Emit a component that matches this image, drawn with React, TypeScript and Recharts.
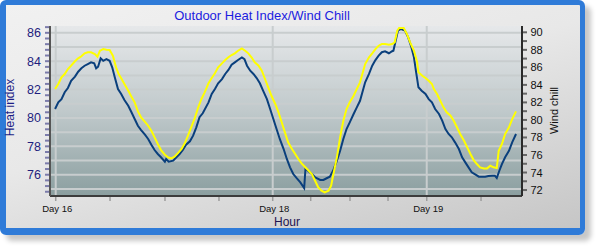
import { LineChart, Line, XAxis, YAxis, CartesianGrid, ReferenceLine } from 'recharts';

// hours since the first reading (Day 16)
const heatHours = [
  -0.1, 0.4, 0.9, 1.4, 1.9, 2.4, 3.0, 3.5, 4.0, 4.5,
  5.0, 5.5, 6.0, 6.3, 6.6, 7.0, 7.4, 7.9, 8.4, 8.8,
  9.2, 9.7, 10.2, 10.7, 11.3, 11.8, 12.3, 12.8, 13.3, 13.9,
  14.4, 14.9, 15.4, 15.9, 16.4, 17.0, 17.2, 17.6, 18.3, 18.8,
  19.3, 19.8, 20.3, 20.9, 21.4, 21.9, 22.4, 22.9, 23.8, 24.3,
  24.8, 25.3, 25.9, 26.4, 26.9, 27.4, 27.9, 28.4, 29.0, 29.4,
  29.8, 30.3, 30.8, 31.3, 31.8, 32.3, 32.9, 33.4, 33.9, 34.4,
  34.9, 35.5, 36.0, 36.5, 37.0, 37.5, 38.1, 38.7, 38.9, 39.3,
  39.9, 40.4, 41.2, 41.7, 42.2, 42.7, 43.2, 43.8, 44.3, 44.8,
  45.3, 45.8, 46.4, 46.9, 47.4, 48.2, 48.8, 49.3, 49.8, 50.3,
  50.8, 51.3, 51.9, 52.4, 52.6, 52.9, 53.3, 53.8, 54.4, 54.9,
  55.4, 55.8, 56.1, 56.5, 57.0, 57.6, 58.1, 58.6, 59.1, 59.7,
  60.2, 60.7, 61.2, 61.7, 62.2, 62.8, 63.3, 63.8, 64.3, 64.8,
  65.4, 65.9, 66.4, 66.9, 67.4, 68.0, 68.4, 68.7, 69.1, 69.5,
  70.0, 70.6, 71.1, 71.7,
];
const heatIndex = [
  80.63, 81.1, 81.33, 81.81, 82.11, 82.62, 82.91, 83.26, 83.5, 83.68,
  83.8, 83.92, 83.85, 83.5, 83.61, 84.2, 84.03, 84.15, 84.03, 83.57,
  82.86, 82.04, 81.69, 81.26, 80.86, 80.4, 79.93, 79.45, 79.15, 78.82,
  78.52, 78.11, 77.74, 77.46, 77.23, 76.92, 77.11, 76.92, 76.99, 77.23,
  77.46, 77.74, 78.11, 78.35, 78.75, 79.34, 80.05, 80.33, 81.1, 81.69,
  82.04, 82.44, 82.74, 83.1, 83.38, 83.75, 83.92, 84.08, 84.27, 84.15,
  83.68, 83.33, 83.1, 82.81, 82.44, 81.92, 81.33, 80.63, 79.93, 79.22,
  78.52, 77.81, 77.11, 76.52, 76.05, 75.77, 75.46, 75.06, 76.4, 76.28,
  76.05, 75.82, 75.63, 75.63, 75.75, 75.86, 76.28, 76.99, 77.69, 78.52,
  79.22, 79.69, 80.28, 80.75, 81.21, 82.51, 83.1, 83.68, 84.08, 84.39,
  84.63, 84.7, 84.56, 84.7, 84.74, 85.33, 86.15, 86.27, 86.15, 85.68,
  84.98, 84.27, 83.33, 82.16, 81.92, 81.69, 81.33, 81.1, 80.63, 80.28,
  79.81, 79.22, 78.87, 78.64, 78.28, 77.81, 77.23, 76.87, 76.52, 76.17,
  76.0, 75.86, 75.86, 75.86, 75.91, 75.93, 75.93, 75.77, 76.28, 76.75,
  77.23, 77.69, 78.28, 78.87,
];

const chillHours = [
  -0.1, 0.4, 0.9, 1.4, 1.9, 2.4, 3.0, 3.5, 4.0, 4.5,
  5.0, 5.5, 6.1, 6.5, 6.9, 7.4, 7.9, 8.4, 8.9, 9.4,
  9.8, 10.2, 10.7, 11.3, 11.8, 12.3, 12.8, 13.3, 13.9, 14.4,
  14.9, 15.4, 15.9, 16.4, 17.0, 17.5, 18.0, 18.5, 19.0, 19.6,
  20.1, 20.6, 21.1, 21.7, 22.2, 22.7, 23.2,
  23.8, 24.3, 24.8, 25.3, 25.9, 26.4, 26.9, 27.4, 27.9, 28.4,
  29.0, 29.5, 30.0, 30.5, 31.0, 31.6, 32.1, 32.6, 33.1, 33.6,
  34.2, 34.7, 35.2, 35.7, 36.2, 36.8, 37.3, 37.8, 38.3, 38.8,
  39.3, 39.9, 40.4, 40.9, 41.4, 41.9, 42.5, 42.9, 43.2, 43.8,
  44.3, 44.8, 45.3, 45.8, 46.4, 46.9, 47.4,
  48.2, 48.8, 49.3, 49.8, 50.3, 50.8, 51.3, 51.9, 52.4, 52.8,
  53.2, 53.5, 54.2, 54.7, 55.2, 55.8, 56.3, 56.5, 57.1, 57.6,
  58.1, 58.6, 58.9, 59.4, 59.9, 60.4, 60.9, 61.5, 62.0, 62.5,
  63.0, 63.6, 64.1, 64.6, 65.1, 65.6, 66.1, 66.7, 67.2, 67.7,
  68.2, 68.7, 69.0, 69.5, 70.0, 70.6, 71.1, 71.7,
];
const windChill = [
  83.53, 84.1, 84.86, 85.24, 85.81, 86.19, 86.69, 87.03, 87.26, 87.6,
  87.72, 87.72, 87.52, 87.21, 87.9, 88.09, 88.01, 87.98, 87.33, 86.0,
  85.24, 84.75, 84.1, 83.33, 82.65, 82.01, 80.98, 80.3, 79.79, 79.34,
  78.77, 78.01, 77.25, 76.56, 76.03, 75.73, 75.62, 75.8, 76.19, 76.68,
  77.33, 78.2, 79.16, 80.3, 81.44, 82.39, 83.15,
  84.18, 84.78, 85.32, 86.0, 86.46, 86.84, 87.15, 87.41, 87.6, 87.9,
  88.17, 87.9, 87.6, 87.15, 86.58, 86.19, 85.62, 84.67, 83.72, 82.76,
  81.82, 80.87, 79.73, 78.58, 77.44, 76.68, 76.11, 75.54, 75.05, 74.66,
  74.28, 73.82, 73.06, 72.31, 71.92, 71.74, 71.92, 72.49, 73.63, 75.73,
  78.01, 79.91, 81.24, 82.01, 82.76, 83.53, 84.29,
  86.38, 87.15, 87.6, 88.09, 88.47, 88.66, 88.66, 88.58, 88.66, 88.86,
  90.18, 90.49, 90.49, 89.81, 88.86, 87.9, 86.58, 85.43, 85.05, 84.78,
  84.47, 84.1, 83.53, 82.96, 82.19, 81.44, 80.87, 80.48, 79.91, 79.16,
  78.39, 77.63, 76.87, 76.11, 75.42, 74.97, 74.59, 74.47, 74.47, 74.77,
  74.59, 74.51, 76.48, 77.25, 78.39, 79.16, 80.1, 80.98,
];

const hourTicks = [0, 8.46, 17.02, 25.43, 33.8, 39.72, 45.84, 51.76, 57.79, 66.25];
const hourLabels = ['Day 16', '', '', '', 'Day 18', '', '', '', 'Day 19', ''];
const dayGridHours = [0, 33.8, 57.79];

const heatLabels = [76, 78, 80, 82, 84, 86];
const heatMinor = Array.from({ length: 30 }, (_, i) => +(74.8 + i * 0.4).toFixed(1));
const heatGrid = [75, 76, 77, 78, 79, 80, 81, 82, 83, 84, 85, 86];
const chillLabels = [72, 74, 76, 78, 80, 82, 84, 86, 88, 90];
const chillMinor = Array.from({ length: 19 }, (_, i) => 72 + i);

const hourDomain = [-0.89, 72.63];
const heatDomain = [74.5, 86.48];
const chillDomain = [71.32, 90.72];

const heatData = heatHours.map((t, i) => ({ t, v: heatIndex[i] }));
const chillData = chillHours.map((t, i) => ({ t, v: windChill[i] }));

const FONT = '"Liberation Sans", Arial, sans-serif';
const GRID = '#c8cdce';

const HourTick = (props: any) => {
  const { x, y, payload } = props;
  const label = hourLabels[hourTicks.indexOf(payload.value)];
  return (
    <g>
      <line x1={x} x2={x} y1={y + 1} y2={y + 5} stroke='#9c9c9c' strokeWidth={1.5} />
      {label && (
        <text x={x + 1.5} y={y + 15.5} textAnchor='middle' fontSize={9.5} fontFamily={FONT} fill='#111'>
          {label}
        </text>
      )}
    </g>
  );
};

const HeatTick = (props: any) => {
  const { x, y, payload } = props;
  const major = heatLabels.includes(payload.value);
  return (
    <g>
      <line x1={x - 5} x2={x - 1} y1={y} y2={y} stroke='#7c7cab' strokeWidth={2} />
      {major && (
        <text x={x - 9} y={y + 4.5} textAnchor='end' fontSize={12.5} fontFamily={FONT} fill='#1e1e7e'>
          {payload.value}
        </text>
      )}
    </g>
  );
};

const ChillTick = (props: any) => {
  const { x, y, payload } = props;
  const major = chillLabels.includes(payload.value);
  return (
    <g>
      <line x1={x + 1} x2={x + 5} y1={y} y2={y} stroke='#666' strokeWidth={2} />
      {major && (
        <text x={x + 8.5} y={y + 4} textAnchor='start' fontSize={11} fontFamily={FONT} fill='#111'>
          {payload.value}
        </text>
      )}
    </g>
  );
};

export default function App() {
  return (
    <div style={{ position: 'fixed', left: 0, top: 0, width: 597, height: 246, background: '#fff' }}>
      <div
        style={{
          position: 'absolute',
          left: 0,
          top: 0,
          width: 585,
          height: 235,
          boxSizing: 'border-box',
          borderStyle: 'solid',
          borderColor: '#2f7bd8',
          borderWidth: '5px 5px 7px 6px',
          borderRadius: 6,
          background: 'linear-gradient(165deg, #f1f1f1 0%, #e8e8e8 45%, #c6c6c6 100%)',
          boxShadow: '6px 6px 5px rgba(0,0,0,0.22)',
        }}
      />
      <div style={{ position: 'absolute', left: 0, top: 0 }}>
        <LineChart width={597} height={246} margin={{ top: 26, right: 25, bottom: 20, left: 10 }}>
          <defs>
            <linearGradient id='plotBg' x1='0' y1='0' x2='0' y2='1'>
              <stop offset='0%' stopColor='#e6e8ea' />
              <stop offset='50%' stopColor='#c0c9cb' />
              <stop offset='100%' stopColor='#8b9fa0' />
            </linearGradient>
          </defs>
          <CartesianGrid xAxisId='main' yAxisId='heat' horizontal={false} vertical={false} fill='url(#plotBg)' />
          <XAxis
            xAxisId='main'
            type='number'
            dataKey='t'
            domain={hourDomain}
            ticks={hourTicks}
            interval={0}
            height={30}
            tickSize={0}
            tickMargin={0}
            tickLine={false}
            tick={HourTick}
            axisLine={{ stroke: '#3c3c3c', strokeWidth: 2 }}
            allowDataOverflow
          />
          <XAxis
            xAxisId='top'
            orientation='top'
            type='number'
            dataKey='t'
            domain={hourDomain}
            height={0}
            tick={false}
            tickLine={false}
            axisLine={{ stroke: '#6a6a6a', strokeWidth: 2 }}
            allowDataOverflow
          />
          <YAxis
            yAxisId='heat'
            type='number'
            domain={heatDomain}
            ticks={heatMinor}
            interval={0}
            width={40}
            tickSize={0}
            tickMargin={0}
            tickLine={false}
            tick={HeatTick}
            axisLine={{ stroke: '#555', strokeWidth: 2 }}
            allowDataOverflow
          />
          <YAxis
            yAxisId='chill'
            orientation='right'
            type='number'
            domain={chillDomain}
            ticks={chillMinor}
            interval={0}
            width={50}
            tickSize={0}
            tickMargin={0}
            tickLine={false}
            tick={ChillTick}
            axisLine={{ stroke: '#2a2a2a', strokeWidth: 2 }}
            allowDataOverflow
          />
          {heatGrid.map((v) => (
            <ReferenceLine key={'h' + v} xAxisId='main' yAxisId='heat' y={v} stroke={GRID} strokeWidth={2} />
          ))}
          {dayGridHours.map((t) => (
            <ReferenceLine key={'d' + t} xAxisId='main' yAxisId='heat' x={t} stroke={GRID} strokeWidth={2} />
          ))}
          <Line
            xAxisId='main'
            yAxisId='heat'
            data={heatData}
            dataKey='v'
            type='linear'
            stroke='#0a3f7c'
            strokeWidth={2}
            dot={false}
            isAnimationActive={false}
          />
          <Line
            xAxisId='main'
            yAxisId='chill'
            data={chillData}
            dataKey='v'
            type='linear'
            stroke='#ffff00'
            strokeWidth={2}
            dot={false}
            isAnimationActive={false}
          />
          <text x={262} y={20} textAnchor='middle' fontSize={13} fontFamily={FONT} fill='#1c1ce0'>
            Outdoor Heat Index/Wind Chill
          </text>
          <text transform='translate(14,107.5) rotate(-90)' textAnchor='middle' fontSize={12} fontFamily={FONT} fill='#1e1e86'>
            Heat index
          </text>
          <text transform='translate(557.5,110.5) rotate(-90)' textAnchor='middle' fontSize={11} fontFamily={FONT} fill='#111'>
            Wind chill
          </text>
          <text x={287} y={226} textAnchor='middle' fontSize={12} fontFamily={FONT} fill='#1e1450'>
            Hour
          </text>
        </LineChart>
      </div>
    </div>
  );
}
